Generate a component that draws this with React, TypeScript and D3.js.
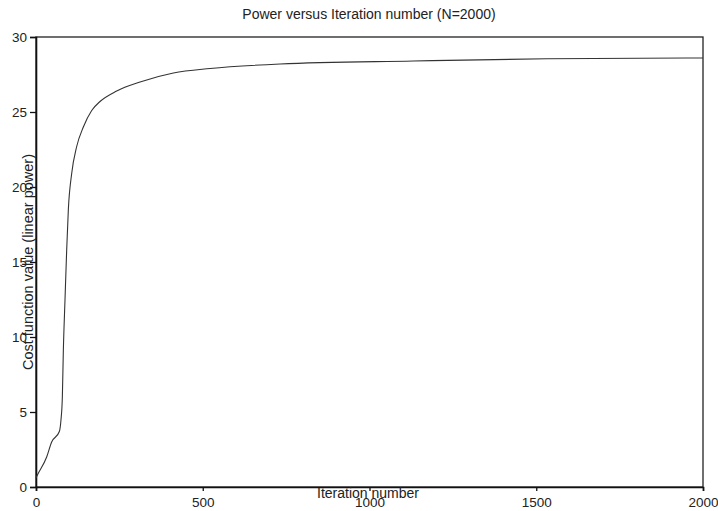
import React from "react";
import * as d3 from "d3";

// values
const iterations = [0, 2, 32, 47, 70, 75, 79, 82, 87, 92, 97, 107, 122, 142, 167, 192, 242, 312, 412, 522, 732, 1131, 1532, 1952, 2000];
const cost = [0.6, 0.7, 2.0, 3.0, 3.7, 4.5, 6.0, 9.1, 12.5, 15.8, 18.5, 20.9, 22.7, 24.0, 25.1, 25.7, 26.4, 27.0, 27.6, 27.9, 28.2, 28.4, 28.55, 28.6, 28.6];
const xTicks = [0, 500, 1000, 1500, 2000];
const yTicks = [0, 5, 10, 15, 20, 25, 30];

const width = 718;
const height = 511;
const margin = { top: 37, right: 15, bottom: 24, left: 36 };

const App = () => {
  const svgRef = React.useRef<SVGSVGElement>(null);

  React.useEffect(() => {
    const svg = d3.select(svgRef.current);
    svg.selectAll("*").remove();

    const x = d3.scaleLinear().domain([0, 2000]).range([margin.left, width - margin.right]);
    const y = d3.scaleLinear().domain([0, 30]).range([height - margin.bottom, margin.top]);

    const font = "'Liberation Sans', Arial, sans-serif";

    // frame
    svg.append("rect")
      .attr("x", x(0))
      .attr("y", y(30))
      .attr("width", x(2000) - x(0))
      .attr("height", y(0) - y(30))
      .attr("fill", "none")
      .attr("stroke", "#222")
      .attr("stroke-width", 1.3);

    svg.append("g")
      .attr("transform", `translate(0,${y(0)})`)
      .call(d3.axisBottom(x).tickValues(xTicks).tickSize(4).tickPadding(6).tickFormat(d3.format("d")))
      .call(g => g.select(".domain").attr("stroke", "#111").attr("stroke-width", 1.6))
      .call(g => g.selectAll(".tick line").attr("stroke", "#111").attr("stroke-width", 1.3))
      .call(g => g.selectAll(".tick text").attr("font-family", font).attr("font-size", 13.5).attr("fill", "#222"));

    svg.append("g")
      .attr("transform", `translate(${x(0)},0)`)
      .call(d3.axisLeft(y).tickValues(yTicks).tickSize(6).tickPadding(3))
      .call(g => g.select(".domain").attr("stroke", "#111").attr("stroke-width", 1.6))
      .call(g => g.selectAll(".tick line").attr("stroke", "#111").attr("stroke-width", 1.3))
      .call(g => g.selectAll(".tick text").attr("font-family", font).attr("font-size", 13.5).attr("fill", "#222"));

    const line = d3.line<number>()
      .x((d, i) => x(iterations[i]))
      .y(d => y(d))
      .curve(d3.curveMonotoneX);

    svg.append("path")
      .datum(cost)
      .attr("d", line)
      .attr("fill", "none")
      .attr("stroke", "#333")
      .attr("stroke-width", 1.1);

    svg.append("text")
      .attr("x", 369)
      .attr("y", 19)
      .attr("text-anchor", "middle")
      .attr("font-family", font)
      .attr("font-size", 14)
      .attr("fill", "#222")
      .text("Power versus Iteration number (N=2000)");

    svg.append("text")
      .attr("x", 368)
      .attr("y", 498)
      .attr("text-anchor", "middle")
      .attr("font-family", font)
      .attr("font-size", 14)
      .attr("fill", "#222")
      .text("Iteration number");

    svg.append("text")
      .attr("transform", `translate(33,262) rotate(-90)`)
      .attr("text-anchor", "middle")
      .attr("font-family", font)
      .attr("font-size", 14.5)
      .attr("fill", "#222")
      .text("Cost function value (linear power)");
  }, []);

  return (
    <svg
      ref={svgRef}
      width={width}
      height={height}
      style={{ position: "absolute", left: 0, top: 0, background: "#fff" }}
    />
  );
};

export default App;
